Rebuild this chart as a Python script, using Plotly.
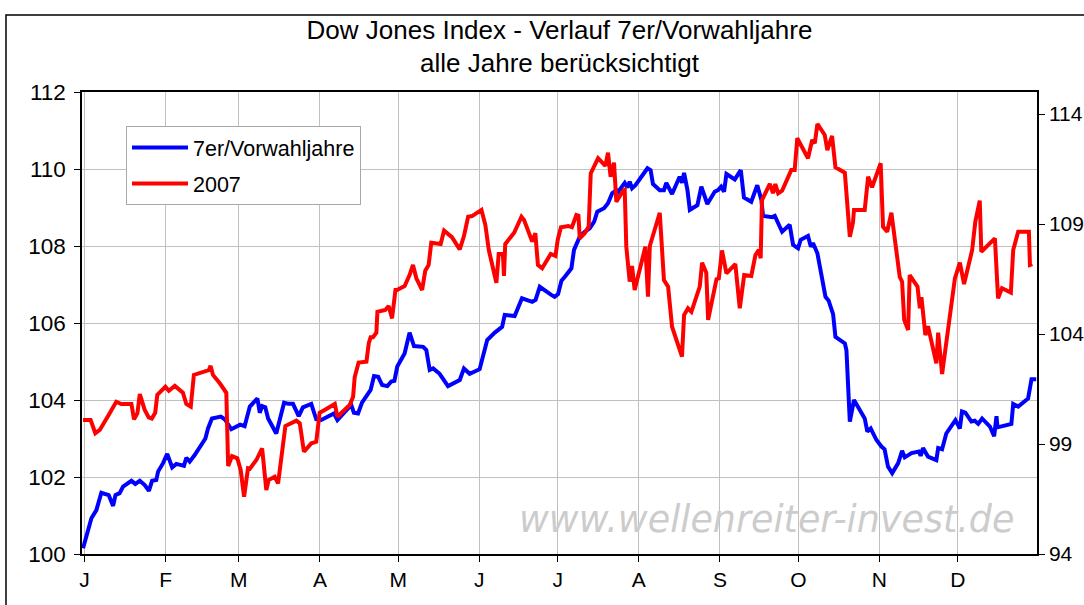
import plotly.graph_objects as go

# x = days since 31 Dec 2006
blue_day = [0.4, 3.6, 5.5, 7.4, 10.2, 11.9, 12.8, 14.4, 15.7, 18.9, 20.4, 22.1, 24.0, 25.6, 26.8, 28.4,
            29.1, 31.0, 32.6, 34.5, 36.1, 39.0, 39.9, 41.2, 43.1, 47.2, 48.2, 49.7, 53.1, 54.6, 57.1,
            60.5, 62.2, 64.2, 67.1, 68.0, 68.9, 70.1, 71.2, 74.3, 77.3, 79.0, 80.7, 82.9, 84.5, 87.7,
            89.6, 91.5, 96.4, 97.7, 103.0, 104.0, 105.6, 107.1, 110.4, 111.7, 113.3, 114.8, 116.8,
            118.3, 119.5, 120.6, 123.4, 125.3, 127.0, 130.5, 131.7, 133.0, 134.3, 136.8, 140.0, 144.5,
            146.1, 148.3, 152.1, 155.0, 157.9, 160.7, 161.7, 165.5, 168.3, 172.2, 173.5, 175.1, 179.5,
            180.8, 182.1, 183.4, 184.7, 187.2, 188.2, 190.4, 192.3, 194.2, 195.9, 197.1, 199.7, 201.2,
            202.8, 204.4, 205.0, 207.6, 208.6, 209.5, 210.4, 211.7, 216.3, 217.5, 218.4, 221.0, 222.6,
            223.5, 225.7, 228.6, 229.5, 230.3, 231.6, 232.5, 235.4, 236.9, 239.2, 242.0, 243.3, 244.5,
            245.6, 246.5, 249.7, 252.0, 253.2, 256.0, 258.3, 259.9, 260.5, 264.0, 265.0, 267.8, 270.7,
            272.0, 273.9, 274.9, 277.7, 278.8, 279.6, 281.3, 284.4, 285.6, 287.3, 288.2, 291.8, 292.4,
            293.7, 295.3, 299.4, 300.4, 301.7, 303.9, 305.8, 307.0, 308.3, 309.9, 312.2, 313.7, 314.7,
            317.3, 320.1, 320.8, 321.7, 323.6, 326.8, 327.5, 329.0, 330.6, 334.1, 335.8, 336.6, 337.9,
            340.2, 341.5, 342.8, 344.3, 347.3, 348.9, 349.8, 350.2, 355.5, 356.2, 358.1, 361.9, 363.2,
            365.0]
blue_val = [100.15, 100.93, 101.14, 101.59, 101.53, 101.25, 101.53, 101.58, 101.75, 101.90, 101.82, 101.90,
            101.79, 101.64, 101.90, 101.92, 102.14, 102.36, 102.60, 102.25, 102.34, 102.29, 102.50, 102.40,
            102.57, 103.00, 103.26, 103.52, 103.57, 103.50, 103.24, 103.36, 103.32, 103.83, 104.04, 103.67,
            103.84, 103.81, 103.52, 103.13, 103.93, 103.90, 103.90, 103.58, 103.81, 103.90, 103.50, 103.48,
            103.65, 103.48, 103.87, 103.67, 103.65, 103.93, 104.26, 104.62, 104.60, 104.39, 104.36, 104.48,
            104.50, 104.87, 105.21, 105.75, 105.40, 105.38, 105.30, 104.78, 104.82, 104.68, 104.36, 104.52,
            104.82, 104.68, 104.80, 105.56, 105.75, 105.90, 106.21, 106.18, 106.64, 106.55, 106.60, 106.94,
            106.73, 106.68, 106.75, 107.10, 107.20, 107.42, 107.90, 108.24, 108.37, 108.46, 108.63, 108.89,
            108.98, 109.11, 109.37, 109.45, 109.40, 109.64, 109.52, 109.67, 109.50, 109.58, 110.02, 109.97,
            109.61, 109.45, 109.45, 109.64, 109.35, 109.80, 109.64, 109.90, 109.45, 108.94, 109.06, 109.54,
            109.09, 109.41, 109.45, 109.54, 109.41, 109.87, 109.73, 109.97, 109.26, 109.15, 109.58, 109.19,
            108.78, 108.75, 108.78, 108.37, 108.55, 108.03, 107.94, 108.16, 108.26, 107.98, 108.08, 107.81,
            106.68, 106.58, 106.23, 105.64, 105.47, 105.30, 103.44, 104.00, 103.52, 103.18, 103.26, 102.96,
            102.79, 102.72, 102.27, 102.10, 102.36, 102.68, 102.51, 102.62, 102.66, 102.55, 102.75, 102.53,
            102.44, 102.75, 102.72, 103.13, 103.48, 103.26, 103.70, 103.67, 103.44, 103.46, 103.38, 103.52,
            103.31, 103.06, 103.58, 103.29, 103.38, 103.90, 103.83, 104.04, 104.54, 104.54]

red_day = [0.4, 3.3, 5.1, 6.8, 10.2, 13.1, 15.0, 18.9, 19.9, 21.2, 22.1, 24.0, 25.5, 26.7, 28.0, 28.8,
           31.9, 33.2, 35.5, 38.6, 39.9, 41.6, 42.8, 45.0, 48.5, 49.2, 50.1, 52.7, 55.2, 55.9, 57.4,
           59.4, 60.7, 62.0, 63.5, 64.2, 66.7, 68.9, 70.5, 71.4, 73.7, 75.0, 76.5, 77.8, 82.0, 83.3,
           84.9, 87.7, 89.6, 90.9, 92.8, 96.7, 97.7, 102.4, 103.7, 104.3, 105.8, 108.8, 109.7, 110.4,
           111.3, 112.6, 113.0, 116.0, 117.3, 118.6, 119.9, 120.5, 123.4, 125.3, 126.6, 127.9, 130.1,
           131.3, 132.6, 133.6, 137.2, 138.5, 141.5, 144.5, 146.1, 147.7, 149.2, 152.8, 154.3, 155.6,
           158.5, 159.4, 161.0, 161.4, 161.9, 165.3, 168.1, 169.1, 172.2, 173.4, 174.4, 176.0, 179.3,
           181.1, 182.0, 183.2, 186.0, 187.4, 189.1, 189.9, 190.4, 192.3, 193.8, 194.6, 197.4, 200.2,
           201.2, 202.2, 203.5, 204.4, 207.0, 207.6, 208.2, 209.5, 210.4, 211.4, 215.5, 216.5, 217.2,
           221.0, 222.6, 224.2, 225.7, 229.5, 230.3, 231.8, 233.1, 236.3, 237.2, 238.8, 239.5, 242.7,
           243.6, 244.8, 246.5, 249.9, 251.6, 253.3, 256.0, 257.6, 258.9, 259.6, 260.1, 263.1, 264.3,
           265.2, 266.3, 267.8, 271.3, 272.6, 273.6, 277.7, 279.3, 280.3, 281.3, 284.1, 285.1, 286.9,
           288.2, 291.8, 293.7, 294.9, 295.3, 299.4, 300.7, 302.2, 305.5, 306.4, 308.0, 309.6, 312.8,
           313.7, 314.5, 316.0, 316.6, 319.6, 320.5, 321.1, 322.6, 323.6, 326.8, 327.5, 329.0, 331.6,
           333.9, 335.8, 337.4, 340.5, 341.7, 343.4, 344.0, 349.2, 350.4, 351.9, 355.3, 356.2, 358.1,
           362.2, 362.6, 363.5]
red_val = [100.09, 100.09, 99.49, 99.64, 100.32, 100.92, 100.82, 100.82, 100.12, 100.40, 101.27, 100.55,
           100.21, 100.16, 100.42, 101.23, 101.60, 101.42, 101.64, 101.33, 100.82, 100.70, 102.14, 102.24,
           102.36, 102.55, 102.14, 101.76, 101.33, 98.00, 98.45, 98.35, 97.82, 96.60, 97.90, 97.88, 98.27,
           98.80, 96.91, 97.36, 97.51, 97.21, 98.58, 99.82, 100.06, 99.94, 98.65, 99.03, 99.10, 100.42,
           100.55, 100.82, 100.24, 100.77, 101.15, 102.03, 102.70, 102.74, 103.58, 103.85, 103.85, 104.06,
           105.01, 105.09, 105.27, 104.71, 106.00, 106.00, 106.18, 106.68, 107.14, 106.53, 106.00, 106.88,
           107.14, 108.15, 108.09, 108.70, 108.40, 107.85, 108.45, 109.33, 109.36, 109.64, 108.95, 107.82,
           106.33, 107.64, 107.64, 106.64, 108.09, 108.60, 109.33, 109.18, 108.20, 108.58, 107.14, 106.99,
           107.64, 107.55, 108.30, 108.85, 108.91, 108.85, 109.41, 109.38, 108.35, 108.58, 108.88, 111.30,
           111.99, 111.64, 112.24, 111.15, 111.79, 110.01, 110.51, 110.55, 107.97, 106.38, 107.09, 106.00,
           107.97, 105.70, 108.00, 109.51, 106.45, 106.15, 104.33, 102.97, 104.86, 105.17, 105.01, 106.15,
           107.24, 106.79, 104.64, 106.49, 106.53, 107.80, 106.76, 107.18, 105.17, 106.68, 106.64, 107.59,
           107.82, 107.44, 110.09, 110.82, 110.40, 110.82, 110.39, 110.51, 111.45, 111.45, 112.90, 111.99,
           112.82, 112.67, 113.55, 113.05, 112.36, 113.00, 111.58, 111.33, 108.42, 109.06, 109.64, 109.64,
           111.15, 110.67, 111.76, 108.88, 108.65, 109.51, 106.60, 106.38, 104.64, 104.18, 106.68, 106.15,
           105.17, 105.67, 103.95, 104.36, 102.67, 104.06, 102.18, 104.49, 106.53, 107.24, 106.27, 107.82,
           109.10, 110.06, 107.74, 108.35, 105.62, 106.08, 105.88, 107.82, 108.65, 108.65, 107.14, 107.18]

month_days = [1, 32, 60, 91, 121, 152, 182, 213, 244, 274, 305, 335]
month_labels = ["J", "F", "M", "A", "M", "J", "J", "A", "S", "O", "N", "D"]
left_ticks = [100, 102, 104, 106, 108, 110, 112]
right_ticks = [94, 99, 104, 109, 114]

FONT = "Arial, Liberation Sans, sans-serif"

fig = go.Figure()
fig.add_trace(go.Scatter(x=blue_day, y=blue_val, mode="lines", name="7er/Vorwahljahre",
                         line=dict(color="#0000FF", width=4), yaxis="y", legendgroup="a"))
fig.add_trace(go.Scatter(x=red_day, y=red_val, mode="lines", name="2007",
                         line=dict(color="#FF0000", width=4), yaxis="y2", legendgroup="b"))

fig.update_layout(
    width=1084, height=605,
    margin=dict(l=82, r=47, t=92, b=51, autoexpand=False),
    paper_bgcolor="white", plot_bgcolor="white",
    font=dict(family=FONT, size=20, color="black"),
    title=dict(text="Dow Jones Index - Verlauf 7er/Vorwahljahre<br>alle Jahre berücksichtigt",
               x=0.5, xref="paper", y=1 - 38.5 / 605, yref="container", yanchor="middle",
               xanchor="center", font=dict(family=FONT, size=26, color="black")),
    xaxis=dict(range=[0, 365.3], tickmode="array", tickvals=month_days, ticktext=month_labels,
               showgrid=True, gridcolor="#c0c0c0", gridwidth=1, showline=True, linecolor="black",
               linewidth=1.5, mirror=True, ticks="outside", ticklen=6, tickcolor="black",
               zeroline=False, tickfont=dict(size=21), automargin=False),
    yaxis=dict(range=[100, 112], tickmode="array", tickvals=left_ticks, showgrid=True,
               gridcolor="#c0c0c0", gridwidth=1, showline=True, linecolor="black", linewidth=1.5,
               ticks="outside", ticklen=6, tickcolor="black", zeroline=False,
               tickfont=dict(size=22.5), automargin=False, ticklabelstandoff=4),
    yaxis2=dict(range=[94, 115], tickmode="array", tickvals=right_ticks, overlaying="y", side="right",
                showgrid=False, showline=True, linecolor="black", linewidth=1.5, ticks="outside",
                ticklen=6, tickcolor="black", zeroline=False, tickfont=dict(size=21),
                automargin=False, ticklabelstandoff=0),
    legend=dict(x=(126 - 82) / 955, y=(554 - 126) / 462, xanchor="left", yanchor="top",
                bgcolor="white", bordercolor="#a8a8a8", borderwidth=1, itemwidth=56,
                font=dict(family=FONT, size=21.5), traceorder="grouped", tracegroupgap=5),
    showlegend=True,
)

fig.add_annotation(text="www.wellenreiter-invest.de", xref="paper", yref="paper",
                   x=(766 - 82) / 955, y=(554 - 519) / 462, xanchor="center", yanchor="middle",
                   showarrow=False,
                   font=dict(family="DejaVu Sans", size=36.5, color="#cccccc", style="italic"))

# outer chart-area frame
fig.add_shape(type="rect", xref="paper", yref="paper",
              x0=(6 - 82) / 955, x1=1.2, y0=-0.3, y1=(554 - 15) / 462,
              line=dict(color="black", width=1.5), fillcolor="rgba(0,0,0,0)", layer="below")

fig.write_html("out.html", config={"displayModeBar": False},
               post_script="document.body.style.margin='0';")
